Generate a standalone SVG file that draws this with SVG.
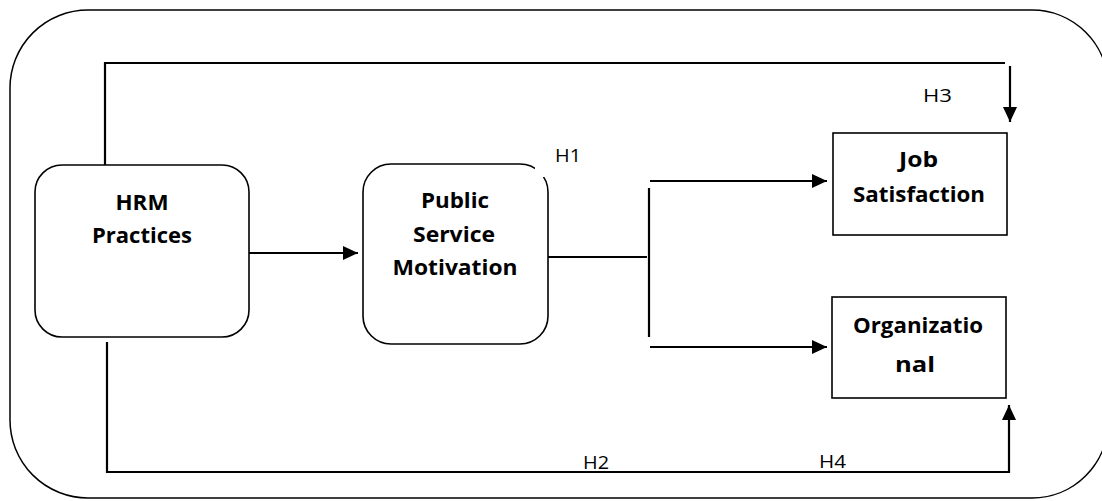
<svg xmlns="http://www.w3.org/2000/svg" width="1102" height="501" viewBox="0 0 1102 501">
  <style>
    .box { fill: #ffffff; stroke: #000000; stroke-width: 1.6; }
    .outer { fill: none; stroke: #000000; stroke-width: 1.5; }
    .conn { fill: none; stroke: #000000; stroke-width: 2.2; }
    .lbl { font-family: "Open Sans", "Liberation Sans", sans-serif; font-weight: bold; font-size: 22px; fill: #000000; text-anchor: middle; }
    .hyp { font-family: "Open Sans", "Liberation Sans", sans-serif; font-size: 18px; fill: #000000; }
  </style>
  <defs>
    <marker id="arrow" markerUnits="userSpaceOnUse" markerWidth="15" markerHeight="14" refX="15" refY="7" orient="auto">
      <path d="M0,0 L15,7 L0,14 Z" fill="#000000"/>
    </marker>
  </defs>
  <rect width="1102" height="501" fill="#ffffff"/>
  <g id="frame">
    <path class="outer" d="M 88,10 H 1032 A 76 76 0 0 1 1108 86 V 422 A 76 76 0 0 1 1032 498 H 88 A 78 78 0 0 1 10 420 V 88 A 78 78 0 0 1 88 10 Z"/>
  </g>
  <g id="connectors">
    <path class="conn" d="M105,165 V63 H1005"/>
    <path class="conn" d="M1010,66 V122" marker-end="url(#arrow)"/>
    <path class="conn" d="M249,253 H358" marker-end="url(#arrow)"/>
    <path class="conn" d="M548,257 H647"/>
    <path class="conn" d="M649,188 V337"/>
    <path class="conn" d="M650,181 H827" marker-end="url(#arrow)"/>
    <path class="conn" d="M650,347 H827" marker-end="url(#arrow)"/>
    <path class="conn" d="M107,342 V472 H1009 V405" marker-end="url(#arrow)"/>
  </g>
  <g id="hrm">
    <rect class="box" x="35" y="165" width="214" height="172" rx="27" ry="27"/>
    <text class="lbl" x="142" y="210" textLength="53" lengthAdjust="spacingAndGlyphs">HRM</text>
    <text class="lbl" x="142" y="243" textLength="100" lengthAdjust="spacingAndGlyphs">Practices</text>
  </g>
  <g id="psm">
    <rect class="box" x="363" y="164" width="185" height="180" rx="28" ry="28"/>
    <text class="lbl" x="455" y="208" textLength="68" lengthAdjust="spacingAndGlyphs">Public</text>
    <text class="lbl" x="454" y="242" textLength="82" lengthAdjust="spacingAndGlyphs">Service</text>
    <text class="lbl" x="455" y="275" textLength="125" lengthAdjust="spacingAndGlyphs">Motivation</text>
  </g>
  <g id="job">
    <rect class="box" x="833" y="133" width="174" height="102"/>
    <text class="lbl" x="918.5" y="167" textLength="39" lengthAdjust="spacingAndGlyphs">Job</text>
    <text class="lbl" x="919" y="202" textLength="132" lengthAdjust="spacingAndGlyphs">Satisfaction</text>
  </g>
  <g id="org">
    <rect class="box" x="832" y="297" width="174" height="101"/>
    <text class="lbl" x="918" y="333" textLength="130" lengthAdjust="spacingAndGlyphs">Organizatio</text>
    <text class="lbl" x="915" y="372" textLength="40" lengthAdjust="spacingAndGlyphs">nal</text>
  </g>
  <g id="labels">
    <rect x="535" y="165" width="11" height="12" fill="#ffffff"/>
    <text class="hyp" x="555" y="162" textLength="26" lengthAdjust="spacingAndGlyphs">H1</text>
    <text class="hyp" x="923" y="102" textLength="29" lengthAdjust="spacingAndGlyphs">H3</text>
    <text class="hyp" x="583" y="469" textLength="26" lengthAdjust="spacingAndGlyphs">H2</text>
    <text class="hyp" x="819" y="468" textLength="27" lengthAdjust="spacingAndGlyphs">H4</text>
  </g>
</svg>
